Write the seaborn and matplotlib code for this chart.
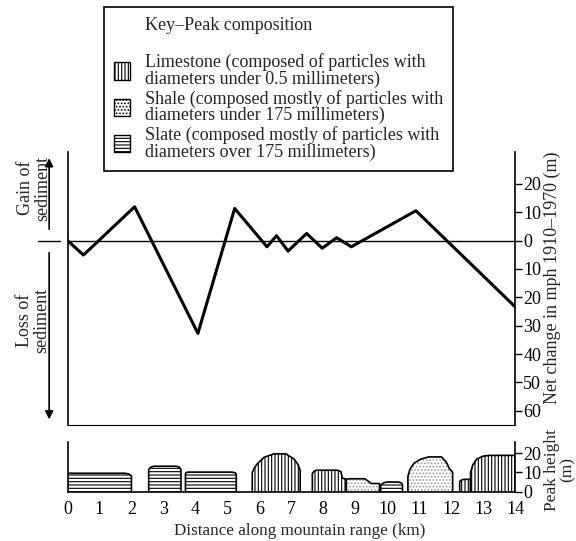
import matplotlib
matplotlib.use("Agg")
import matplotlib.pyplot as plt
from matplotlib.patches import Patch
from matplotlib.ticker import FuncFormatter
import seaborn as sns

# net change in sediment along the range
distance_km = [0, 0.5, 2.1, 4.08, 5.23, 6.24, 6.54, 6.9, 7.48, 7.97, 8.42, 8.88, 10.9, 14]
net_change_m = [0, -5.1, 11.9, -32.7, 11.3, -2.2, 1.7, -3.7, 2.5, -2.7, 1.0, -2.2, 10.5, -23.3]

# peak profiles (km, m) and their composition
peak_rock = ["Slate", "Slate", "Slate", "Limestone", "Limestone",
             "Shale", "Slate", "Shale", "Limestone", "Limestone"]
peak_x = [
    [0, 0, 1.8, 1.92, 2.0, 2.0],
    [2.54, 2.54, 2.6, 2.7, 3.4, 3.5, 3.55, 3.55],
    [3.69, 3.69, 3.75, 5.15, 5.25, 5.28, 5.28],
    [5.78, 5.78, 5.85, 5.94, 6.15, 6.46, 6.83, 7.08, 7.22, 7.28, 7.28],
    [7.66, 7.66, 7.72, 7.8, 8.45, 8.55, 8.6, 8.72, 8.72],
    [8.72, 8.72, 8.8, 9.3, 9.4, 9.5, 9.76, 9.76],
    [9.8, 9.8, 9.9, 10.0, 10.35, 10.45, 10.48, 10.48],
    [10.65, 10.65, 10.72, 10.85, 11.05, 11.3, 11.7, 11.85, 11.95, 12.05, 12.05],
    [12.27, 12.27, 12.33, 12.4, 12.61, 12.61],
    [12.61, 12.61, 12.68, 12.8, 13.0, 13.2, 14.0, 14.0],
]
peak_h = [
    [0, 9.6, 9.6, 9.2, 8.2, 0],
    [0, 11.5, 12.8, 13.3, 13.3, 12.8, 11.5, 0],
    [0, 9.5, 10.2, 10.2, 9.8, 9, 0],
    [0, 10, 12.5, 14.6, 18, 19.8, 19.8, 17.2, 14, 11, 0],
    [0, 9.5, 10.8, 11.2, 11.2, 10.5, 7, 6.5, 0],
    [0, 6.3, 6.7, 6.7, 5.5, 4.2, 4.2, 0],
    [0, 3.5, 4.6, 5.0, 5.0, 4.5, 3.5, 0],
    [0, 8, 12, 15, 17, 18.2, 18.2, 15.5, 12, 10, 0],
    [0, 5.3, 6.1, 6.4, 6.4, 0],
    [0, 10, 14, 17, 18.6, 19, 19, 0],
]

rock_labels = {
    "Limestone": "Limestone (composed of particles with\ndiameters under 0.5 millimeters)",
    "Shale": "Shale (composed mostly of particles with\ndiameters under 175 millimeters)",
    "Slate": "Slate (composed mostly of particles with\ndiameters over 175 millimeters)",
}
hatches = {"Limestone": "|||||", "Shale": ".....", "Slate": "-----"}
hatch_colors = {"Limestone": "k", "Shale": "0.6", "Slate": "k"}

sns.set_style("white")
plt.rcParams["font.family"] = ["Liberation Serif", "DejaVu Serif"]
plt.rcParams["hatch.linewidth"] = 0.8

W, H = 576, 541
fig = plt.figure(figsize=(W / 100, H / 100), dpi=100)

# ---- top panel: net change
ax = fig.add_axes([67.5 / W, 1 - 425 / H, 447.5 / W, 273 / H])
sns.lineplot(x=distance_km, y=net_change_m, ax=ax, color="k", lw=2.2,
             sort=False, estimator=None)
ax.axhline(0, color="k", lw=1)
ax.set_xlim(0, 14)
ax.set_ylim(-65, 31.2)
ax.set_xticks([])
ax.set_yticks(range(-60, 21, 10))
ax.yaxis.set_major_formatter(FuncFormatter(lambda v, p: f"{abs(v):.0f}"))
ax.yaxis.tick_right()
ax.tick_params(axis="y", direction="out", length=5, width=1, labelsize=13,
               pad=1, colors="k")
ax.spines["top"].set_visible(False)
for s in ["left", "right"]:
    ax.spines[s].set_linewidth(1.2)
    ax.spines[s].set_color("k")
ax.spines["bottom"].set_linewidth(0.8)
ax.spines["bottom"].set_color("k")

# gain / loss annotations
ytr = ax.get_yaxis_transform()
ax.plot([-0.066, -0.017], [0, 0], transform=ytr, clip_on=False, color="k", lw=1)
ax.annotate("", xy=(-0.041, 30), xytext=(-0.041, 3), xycoords=ytr,
            textcoords=ytr, annotation_clip=False,
            arrowprops=dict(arrowstyle="-|>", color="k", lw=1.2, mutation_scale=12))
ax.annotate("", xy=(-0.041, -64), xytext=(-0.041, -3.3), xycoords=ytr,
            textcoords=ytr, annotation_clip=False,
            arrowprops=dict(arrowstyle="-|>", color="k", lw=1.2, mutation_scale=12))
fig.text(34 / W, 1 - 188 / H, "Gain of\nsediment", rotation=90, ha="center",
         va="center", fontsize=13, linespacing=1.0)
fig.text(33 / W, 1 - 320 / H, "Loss of\nsediment", rotation=90, ha="center",
         va="center", fontsize=13, linespacing=1.0)
fig.text(552 / W, 1 - 278 / H, "Net change in mph 1910–1970 (m)", rotation=90,
         ha="center", va="center", fontsize=13)

# ---- bottom panel: peaks
bx = fig.add_axes([67.5 / W, 1 - 491.5 / H, 447.5 / W, 49.8 / H])
for rock, xs, hs in zip(peak_rock, peak_x, peak_h):
    bx.fill_between(xs, hs, 0, facecolor="white", edgecolor=hatch_colors[rock],
                    hatch=hatches[rock], lw=0)
    bx.plot(xs, hs, color="k", lw=1.2)
bx.set_xlim(0, 14)
bx.set_ylim(0, 26.2)
bx.set_xticks(range(0, 15))
bx.set_yticks([0, 10, 20])
bx.yaxis.tick_right()
bx.tick_params(axis="both", direction="out", length=5, width=1, labelsize=13,
               pad=1, colors="k")
bx.tick_params(axis="x", pad=2)
bx.spines["top"].set_visible(False)
for s in ["left", "right", "bottom"]:
    bx.spines[s].set_linewidth(1.2)
    bx.spines[s].set_color("k")
bx.set_xlabel("Distance along mountain range (km)", fontsize=12.3, labelpad=0)
bx.xaxis.set_label_coords((300 - 67.5) / 447.5, -0.64)
fig.text(560 / W, 1 - 470 / H, "Peak height\n(m)", rotation=90, ha="center",
         va="center", fontsize=12.5, linespacing=1.0, multialignment="center")

# ---- key
handles = [Patch(facecolor="none", edgecolor="none")]
labels = ["Key–Peak composition\n"]
for rock in ["Limestone", "Shale", "Slate"]:
    handles.append(Patch(facecolor="white", edgecolor="k", hatch=hatches[rock]))
    labels.append(rock_labels[rock])
leg = fig.legend(handles, labels, loc="upper left",
                 bbox_to_anchor=(104 / W, 1 - 7 / H), frameon=True,
                 fancybox=False, framealpha=1, edgecolor="k", fontsize=13,
                 handlelength=0.9, handleheight=1.1, handletextpad=0.8,
                 labelspacing=0.1, borderpad=0.55, borderaxespad=0)
leg.get_frame().set_linewidth(1.2)
for i, t in enumerate(leg.get_texts()):
    t.set_linespacing(1.05 if i == 0 else 0.95)

fig.savefig("out.png", dpi=100)
